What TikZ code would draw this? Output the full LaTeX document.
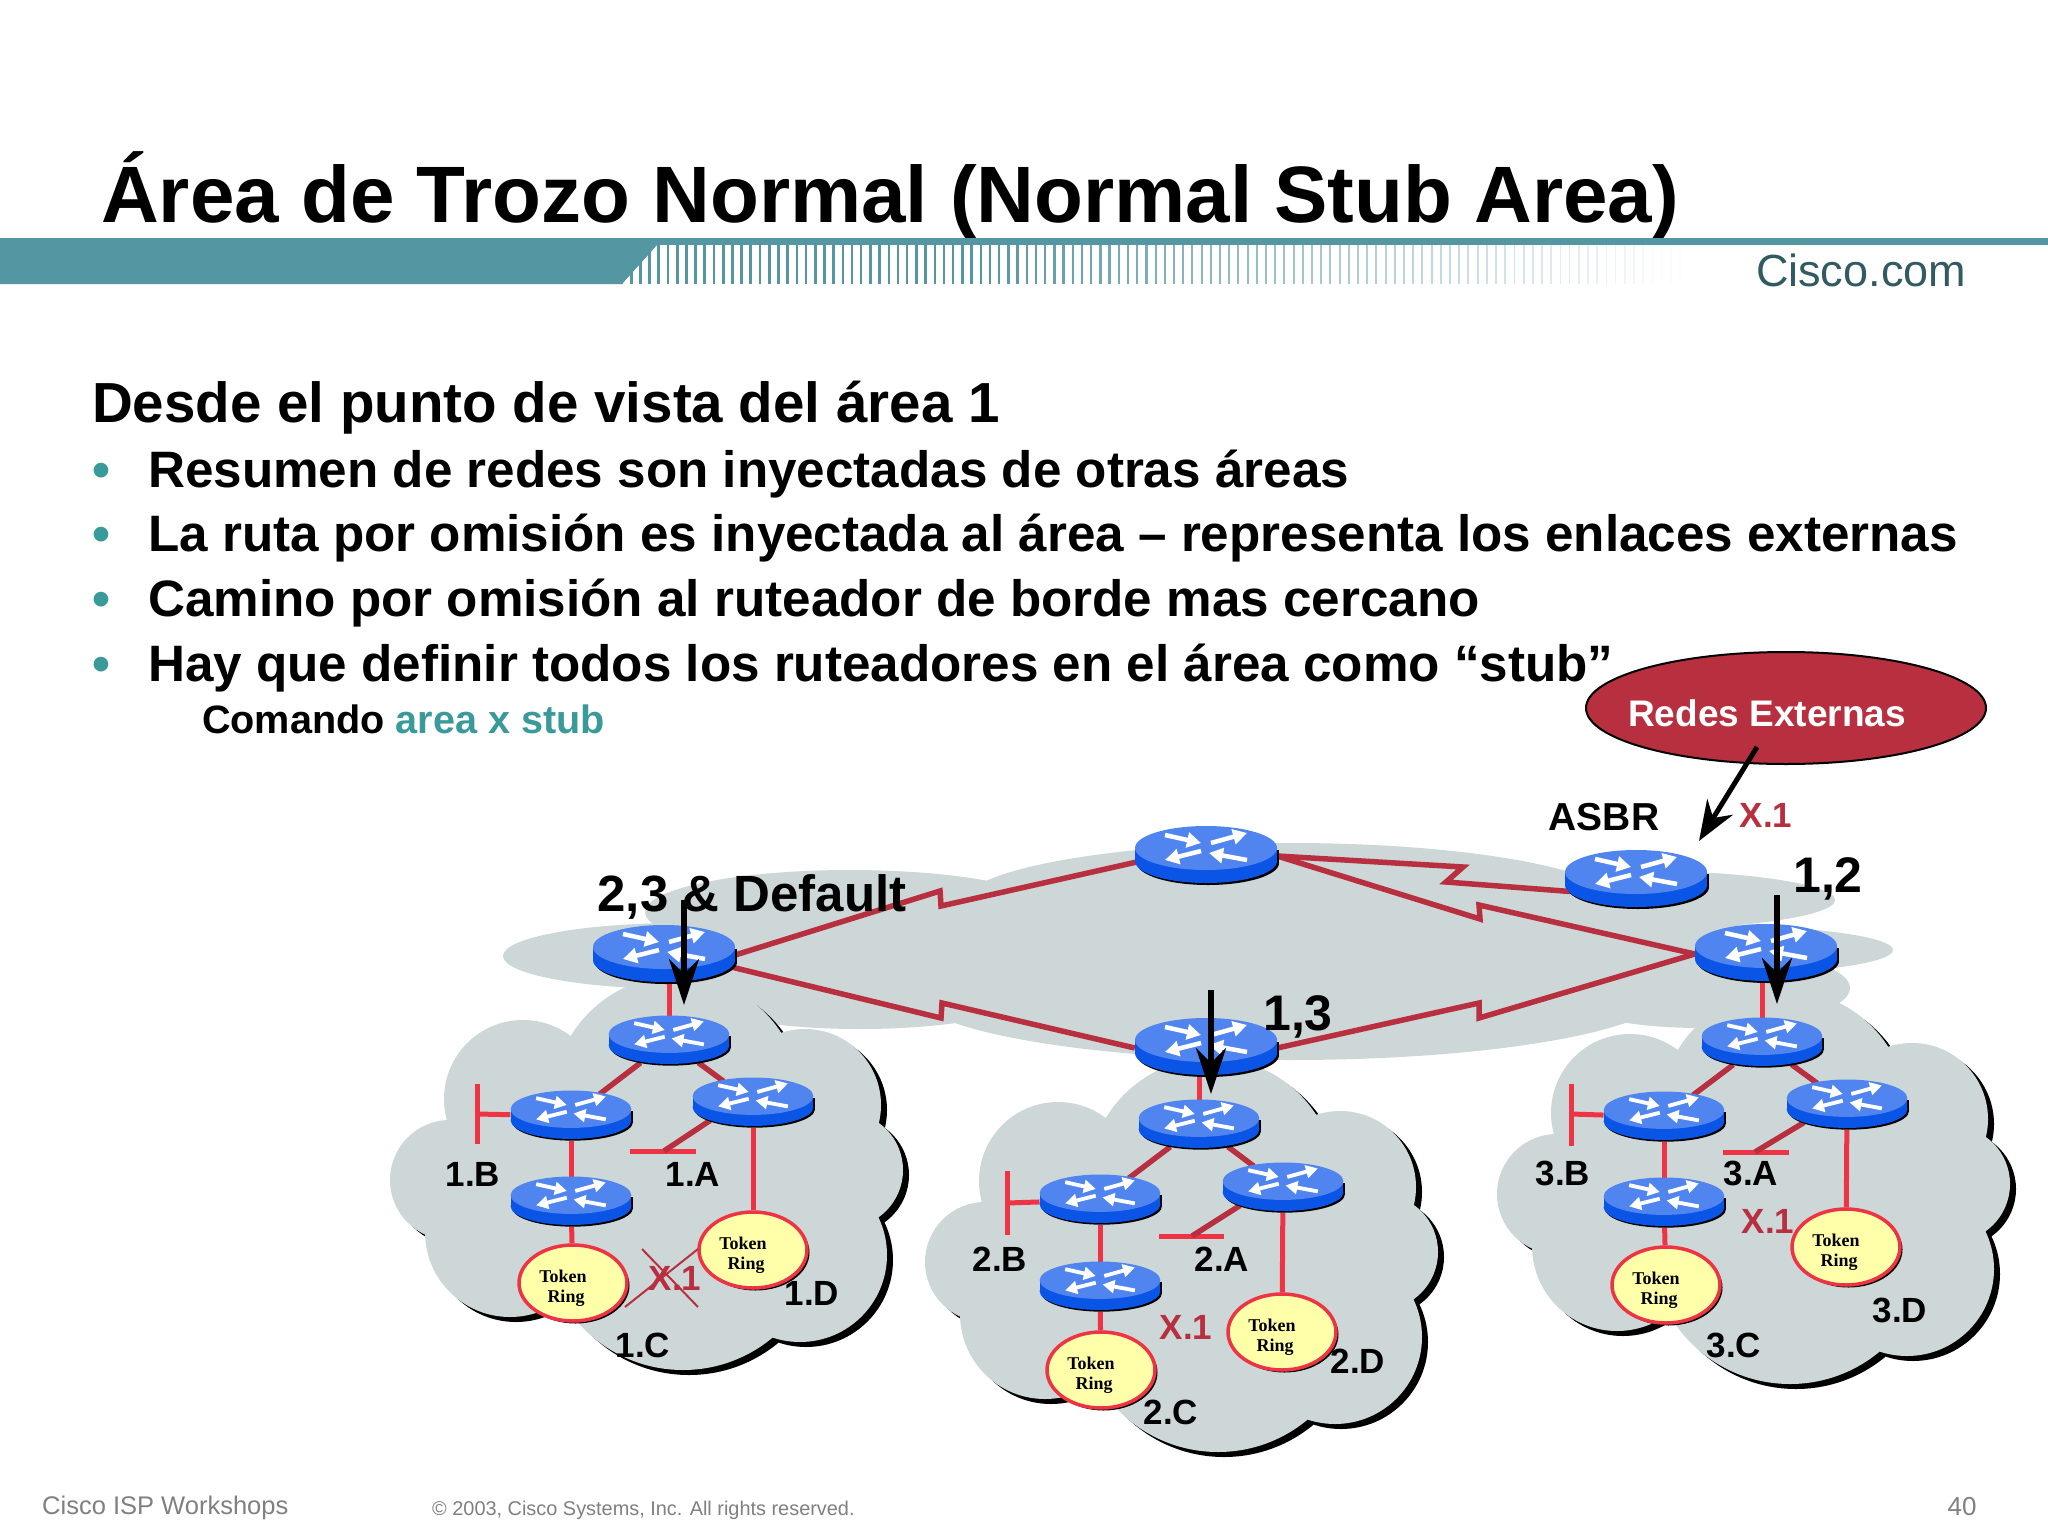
\documentclass[tikz,border=0pt]{standalone}
\usepackage{fontspec}
\setmainfont{Liberation Sans}
\newfontfamily\ringfont{Liberation Serif}
\usetikzlibrary{arrows.meta,shapes.geometric,shadows}
\definecolor{bandteal}{HTML}{5496A2}
\definecolor{bullteal}{HTML}{3A9A9A}
\definecolor{cloudgray}{HTML}{CDD7D7}
\definecolor{routertop}{HTML}{5085F0}
\definecolor{routerside}{HTML}{0A55E6}
\definecolor{lanred}{HTML}{EE3344}
\definecolor{wanred}{HTML}{B83040}
\definecolor{ringyellow}{HTML}{FFFFAA}
\definecolor{footgray}{HTML}{808080}
\newcommand\tokentext{\rule{0pt}{23pt}Token\hspace*{20pt}\\Ring\hspace*{14pt}}
\tikzset{
    bignode/.style={shape=ellipse, minimum width=142pt, minimum height=58pt, inner sep=0pt},
    smallnode/.style={shape=ellipse, minimum width=121pt, minimum height=49pt, inner sep=0pt},
    tokenring/.style={shape=ellipse, minimum width=108pt, minimum height=76pt, inner sep=0pt, draw=lanred, line width=3.5pt, fill=ringyellow, align=center, font=\ringfont\bfseries\fontsize{18}{20}\selectfont, drop shadow={shadow xshift=2.5pt, shadow yshift=-2.5pt, fill=black, opacity=1}},
    lanlink/.style={draw=lanred, line width=5pt},
    wanlink/.style={draw=wanred, line width=5.5pt},
    thinx/.style={draw=wanred, line width=2pt},
    bigarrow/.style={draw=black, line width=5.5pt, -{Stealth[length=46pt, width=30pt]}},
    lbl/.style={font=\bfseries\fontsize{35}{35}\selectfont, inner sep=0pt},
    xlbl/.style={lbl, text=wanred},
    bodytext/.style={font=\bfseries\fontsize{51.2}{51.2}\selectfont, anchor=base west, inner sep=0pt},
    pics/router/.style={code={
        \begin{scope}[scale=#1, routerarrow/.style={draw=white, line width=#1*4.5pt, -{Triangle[length=14pt, width=15pt, scale=#1]}}]
            \fill[black] (2,7) ellipse [x radius=71, y radius=22];
            \fill[black] (-69,-6) rectangle (73,7);
            \fill[routerside] (0,5) ellipse [x radius=71, y radius=22];
            \fill[routerside] (-71,-8) rectangle (71,5);
            \fill[routertop] (0,-8) ellipse [x radius=71, y radius=22];
            \draw[routerarrow] (-41,-21) -- (-5,-13);
            \draw[routerarrow] (5,-13) -- (41,-23);
            \draw[routerarrow] (-5,-5) -- (-41,4);
            \draw[routerarrow] (41,4) -- (3,-3);
        \end{scope}
    }},
    pics/stubcloud/.style={code={
        \fill[black, shift={(6,5)}] (450,1180) circle [radius=60] (523,1099) circle [radius=79] (677,1100) circle [radius=124] (805,1105) circle [radius=76] (845,1170) circle [radius=58] (800,1255) circle [radius=87] (683,1230) circle [radius=140] (510,1232) circle [radius=85];
        \fill[cloudgray] (450,1180) circle [radius=60] (523,1099) circle [radius=79] (677,1100) circle [radius=124] (805,1105) circle [radius=76] (845,1170) circle [radius=58] (800,1255) circle [radius=87] (683,1230) circle [radius=140] (510,1232) circle [radius=85] (640,1170) circle [radius=130];
    }},
}
\begin{document}
\begin{tikzpicture}[x=1pt, y=-1pt]
    \useasboundingbox (0,0) rectangle (2048,1536);
    \fill[white] (0,0) rectangle (2048,1536);
    \node[font=\bfseries\fontsize{80}{80}\selectfont, anchor=base west, inner sep=0pt] (title) at (101,222) {Área de Trozo Normal (Normal Stub Area)};
    \fill[bandteal] (0,238) rectangle (2048,245);
    \foreach \i in {0,...,115} {
        \pgfmathsetmacro{\stripex}{622+9.2*\i}
        \pgfmathsetmacro{\stripeo}{min(1,1.5-1.5*\i/116)}
        \pgfmathsetmacro{\stripew}{2.8-1.2*\i/116}
        \draw[bandteal, line width=\stripew pt, opacity=\stripeo] (\stripex,245) -- (\stripex,284);
    }
    \fill[bandteal] (0,245) -- (657,245) -- (622,284) -- (0,284) -- cycle;
    \node[font=\fontsize{45}{45}\selectfont, text=bandteal!60!black, inner sep=0pt] (brand) at (1861,270) {Cisco.com};

    \node[bodytext, font=\bfseries\fontsize{56.5}{56.5}\selectfont] (head) at (92,422) {Desde el punto de vista del área 1};
    \node[bodytext, text=bullteal] (b1) at (92,487) {•};
    \node[bodytext, text=bullteal] (b2) at (92,551) {•};
    \node[bodytext, text=bullteal] (b3) at (92,616) {•};
    \node[bodytext, text=bullteal] (b4) at (92,681) {•};
    \node[bodytext] (t1) at (148,487) {Resumen de redes son inyectadas de otras áreas};
    \node[bodytext] (t2) at (148,551) {La ruta por omisión es inyectada al área – representa los enlaces externas};
    \node[bodytext] (t3) at (148,616) {Camino por omisión al ruteador de borde mas cercano};
    \node[bodytext] (t4) at (148,681) {Hay que definir todos los ruteadores en el área como “stub”};
    \node[bodytext, font=\bfseries\fontsize{39.6}{39.6}\selectfont] (cmd) at (202,733) {Comando \textcolor{bullteal}{area x stub}};

    \fill[cloudgray] (680,956) ellipse [x radius=177, y radius=33]
        (850,912) ellipse [x radius=205, y radius=42]
        (1290,905) ellipse [x radius=330, y radius=62]
        (1620,900) ellipse [x radius=215, y radius=30]
        (1700,950) ellipse [x radius=193, y radius=25]
        (1700,988) ellipse [x radius=150, y radius=40]
        (1290,990) ellipse [x radius=380, y radius=70]
        (860,990) ellipse [x radius=180, y radius=39];
    \fill[cloudgray] (700,930) rectangle (1700,1000);
    \pic (cloud1) at (0,0) {stubcloud};
    \pic (cloud2) at (535,82) {stubcloud};
    \pic (cloud3) at (1107,14) {stubcloud};

    \node[bignode] (RL) at (664,955) {};
    \node[bignode] (RT) at (1206,856) {};
    \node[bignode] (RB) at (1206,1048) {};
    \node[bignode] (RR) at (1766,954) {};
    \node[bignode] (ASBR) at (1636,880) {};

    \node[smallnode] (R10) at (669,1041) {};
    \node[smallnode] (R1B) at (571,1116) {};
    \node[smallnode] (R1A) at (753,1103) {};
    \node[smallnode] (R1C) at (571,1202) {};
    \node[smallnode] (R20) at (1199,1125) {};
    \node[smallnode] (R2B) at (1100,1200) {};
    \node[smallnode] (R2A) at (1283,1188) {};
    \node[smallnode] (R2C) at (1100,1287) {};
    \node[smallnode] (R30) at (1762,1043) {};
    \node[smallnode] (R3B) at (1664,1117) {};
    \node[smallnode] (R3A) at (1847,1105) {};
    \node[smallnode] (R3C) at (1664,1203) {};

    \coordinate (j1a) at (940,891);
    \coordinate (j1b) at (941,906);
    \coordinate (j2a) at (941,1018);
    \coordinate (j2b) at (942,1003);
    \coordinate (j3a) at (1479,1003);
    \coordinate (j3b) at (1479,1018);
    \coordinate (j4a) at (1480,919);
    \coordinate (j4b) at (1479,905);
    \coordinate (j5a) at (1463,867);
    \coordinate (j5b) at (1446,882);
    \draw[wanlink] (RL.east) -- (j1a) -- (j1b) -- (RT.185);
    \draw[wanlink] (RL.-10) -- (j2a) -- (j2b) -- (RB.west);
    \draw[wanlink] (RB.east) -- (j3a) -- (j3b) -- (RR.west);
    \draw[wanlink] (RT.east) -- (j4a) -- (j4b) -- (RR.west);
    \draw[wanlink] (RT.east) -- (j5a) -- (j5b) -- (ASBR.190);

    \node[tokenring] (TR1C) at (573,1283) {\tokentext};
    \node[tokenring] (TR1D) at (753,1250) {\tokentext};
    \node[tokenring] (TR2C) at (1101,1370) {\tokentext};
    \node[tokenring] (TR2D) at (1282,1332) {\tokentext};
    \node[tokenring] (TR3C) at (1666,1285) {\tokentext};
    \node[tokenring] (TR3D) at (1846,1247) {\tokentext};

    \coordinate (s1bt) at (477,1084);
    \coordinate (s1bb) at (477,1144);
    \coordinate (s1bm) at (477,1114);
    \coordinate (s1al) at (630,1151);
    \coordinate (s1ar) at (696,1151);
    \coordinate (s1am) at (664,1151);
    \coordinate (s2bt) at (1007,1171);
    \coordinate (s2bb) at (1007,1235);
    \coordinate (s2bm) at (1007,1203);
    \coordinate (s2al) at (1159,1236);
    \coordinate (s2ar) at (1224,1236);
    \coordinate (s2am) at (1192,1236);
    \coordinate (s3bt) at (1571,1084);
    \coordinate (s3bb) at (1571,1146);
    \coordinate (s3bm) at (1571,1114);
    \coordinate (s3al) at (1723,1152);
    \coordinate (s3ar) at (1789,1152);
    \coordinate (s3am) at (1755,1152);

    \draw[lanlink] (R10) -- (R10 |- RL.south);
    \draw[wanlink] (R10) -- (R1B);
    \draw[wanlink] (R10) -- (R1A);
    \draw[lanlink] (s1bt) -- (s1bb);
    \draw[lanlink] (s1bm) -- (R1B);
    \draw[lanlink] (s1al) -- (s1ar);
    \draw[wanlink] (R1A.south west) -- (s1am);
    \draw[lanlink] (R1B) -- (R1C);
    \draw[lanlink] (R1C) -- (TR1C);
    \draw[lanlink] (R1A) -- (TR1D);

    \draw[lanlink] (R20) -- (R20 |- RB.south);
    \draw[wanlink] (R20) -- (R2B);
    \draw[wanlink] (R20) -- (R2A);
    \draw[lanlink] (s2bt) -- (s2bb);
    \draw[lanlink] (s2bm) -- (R2B);
    \draw[lanlink] (s2al) -- (s2ar);
    \draw[wanlink] (R2A.south west) -- (s2am);
    \draw[lanlink] (R2B) -- (R2C);
    \draw[lanlink] (R2C) -- (TR2C);
    \draw[lanlink] (R2A) -- (TR2D);

    \draw[lanlink] (R30) -- (R30 |- RR.south);
    \draw[wanlink] (R30) -- (R3B);
    \draw[wanlink] (R30) -- (R3A);
    \draw[lanlink] (s3bt) -- (s3bb);
    \draw[lanlink] (s3bm) -- (R3B);
    \draw[lanlink] (s3al) -- (s3ar);
    \draw[wanlink] (R3A.south west) -- (s3am);
    \draw[lanlink] (R3B) -- (R3C);
    \draw[lanlink] (R3C) -- (TR3C);
    \draw[lanlink] (R3A) -- (TR3D);

    \pic at (RL) {router=1};
    \pic at (RT) {router=1};
    \pic at (RB) {router=1};
    \pic at (RR) {router=1};
    \pic at (ASBR) {router=1};
    \pic at (R10) {router=.85};
    \pic at (R1B) {router=.85};
    \pic at (R1A) {router=.85};
    \pic at (R1C) {router=.85};
    \pic at (R20) {router=.85};
    \pic at (R2B) {router=.85};
    \pic at (R2A) {router=.85};
    \pic at (R2C) {router=.85};
    \pic at (R30) {router=.85};
    \pic at (R3B) {router=.85};
    \pic at (R3A) {router=.85};
    \pic at (R3C) {router=.85};

    \node[lbl] (l1b) at (473,1174) {1.B};
    \node[lbl] (l1a) at (693,1174) {1.A};
    \node[lbl] (l1c) at (643,1345) {1.C};
    \node[lbl] (l1d) at (812,1293) {1.D};
    \node[lbl] (l2b) at (1000,1259) {2.B};
    \node[lbl] (l2a) at (1222,1259) {2.A};
    \node[lbl] (l2c) at (1171,1412) {2.C};
    \node[lbl] (l2d) at (1358,1361) {2.D};
    \node[lbl] (l3b) at (1563,1173) {3.B};
    \node[lbl] (l3a) at (1751,1173) {3.A};
    \node[lbl] (l3c) at (1734,1345) {3.C};
    \node[lbl] (l3d) at (1900,1310) {3.D};
    \node[xlbl] (x1) at (675,1278) {X.1};
    \node[xlbl] (x2) at (1186,1327) {X.1};
    \node[xlbl] (x3) at (1768,1221) {X.1};
    \node[xlbl] (x4) at (1766,815) {X.1};
    \node[lbl, font=\bfseries\fontsize{39}{39}\selectfont] (asbrlbl) at (1604,817) {ASBR};
    \node[lbl, font=\bfseries\fontsize{51}{51}\selectfont] (lbldef) at (752,897) {2,3 \& Default};
    \node[lbl, font=\bfseries\fontsize{50}{50}\selectfont] (lbl13) at (1298,1017) {1,3};
    \node[lbl, font=\bfseries\fontsize{50}{50}\selectfont] (lbl12) at (1828,879) {1,2};

    \coordinate (xa) at (625,1307);
    \coordinate (xb) at (698,1249);
    \coordinate (xc) at (642,1249);
    \coordinate (xd) at (698,1307);
    \draw[thinx] (xa) -- (xb);
    \draw[thinx] (xc) -- (xd);

    \node[shape=ellipse, draw=black, line width=2pt, fill=wanred, minimum width=400pt, minimum height=112pt, inner sep=0pt] (ext) at (1786,708) {};
    \node[lbl, text=white, font=\bfseries\fontsize{37}{37}\selectfont] (extlbl) at (1767,713) {Redes Externas};

    \coordinate (a1s) at (684,900);
    \coordinate (a1e) at (684,1005);
    \coordinate (a2s) at (1211,990);
    \coordinate (a2e) at (1211,1094);
    \coordinate (a3s) at (1777,895);
    \coordinate (a3e) at (1777,1004);
    \coordinate (a4s) at (1757,747);
    \coordinate (a4e) at (1699,841);
    \draw[bigarrow] (a1s) -- (a1e);
    \draw[bigarrow] (a2s) -- (a2e);
    \draw[bigarrow] (a3s) -- (a3e);
    \draw[draw=black, line width=5pt, -{Stealth[length=40pt, width=30pt]}] (a4s) -- (a4e);

    \node[font=\fontsize{25.5}{26}\selectfont, text=footgray, anchor=base west, inner sep=0pt] (foot1) at (42,1514) {Cisco ISP Workshops};
    \node[font=\fontsize{19.9}{20}\selectfont, text=footgray, anchor=base west, inner sep=0pt] (foot2) at (432,1515) {© 2003, Cisco Systems, Inc. All rights reserved.};
    \node[font=\fontsize{26}{26}\selectfont, text=footgray, anchor=base, inner sep=0pt] (foot3) at (1962,1515) {40};
\end{tikzpicture}
\end{document}
